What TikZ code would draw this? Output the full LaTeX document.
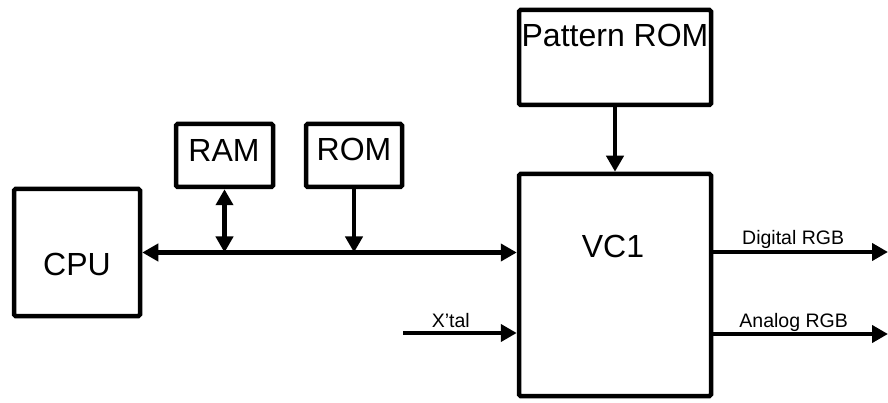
\documentclass[tikz,border=0pt]{standalone}
\usepackage{fontspec}
\setmainfont{Liberation Sans}
\usetikzlibrary{arrows.meta,positioning}

\begin{document}
\begin{tikzpicture}[x=1pt,y=-1pt,line width=4.5pt,
                    >={Triangle[length=16pt,width=17pt]},
                    block/.style={draw,rounded corners=1.5pt,inner sep=0pt},
                    big text/.style={font=\fontsize{32}{32}\selectfont,anchor=base,inner sep=0pt},
                    small text/.style={font=\fontsize{19.5}{20}\selectfont,anchor=base,inner sep=0pt}]

  \useasboundingbox (0,0) rectangle (888,403);

  % blocks
  \node[block,minimum width=126pt,minimum height=127pt] (cpu) at (77,252.5) {};
  \node[block,minimum width=97pt,minimum height=63pt] (ram) at (224.5,155.5) {};
  \node[block,minimum width=96pt,minimum height=63pt] (rom) at (354,155.5) {};
  \node[block,minimum width=192pt,minimum height=95pt] (patrom) at (615,57.5) {};
  \node[block,minimum width=192pt,minimum height=222pt] (vc1) at (615,285) {};

  \node[big text] (cpulabel) at (77,275) {CPU};
  \node[big text] (ramlabel) at (224,161.5) {RAM};
  \node[big text] (romlabel) at (354,161) {ROM};
  \node[big text] (patromlabel) at (615,47) {Pattern ROM};
  \node[big text] (vc1label) at (613,258) {VC1};

  \coordinate (xtal) at (403,333);
  \coordinate (digital) at (888,252);
  \coordinate (analog) at (888,334);

  % bus and signals
  \draw[<->] (cpu) -- (cpu -| vc1.west);
  \draw[<->] (ram) -- (ram.south |- cpu);
  \draw[->] (rom) -- (rom.south |- cpu);
  \draw[->] (patrom) -- (vc1);
  \draw[->] (xtal) -- (xtal -| vc1.west)
    node[small text,pos=.42,yshift=6pt] (xtallabel) {X’tal};
  \draw[->] (vc1.east |- digital) -- (digital)
    node[small text,pos=.457,yshift=7pt] (digitallabel) {Digital RGB};
  \draw[->] (vc1.east |- analog) -- (analog)
    node[small text,pos=.46,yshift=7pt] (analoglabel) {Analog RGB};
\end{tikzpicture}
\end{document}
